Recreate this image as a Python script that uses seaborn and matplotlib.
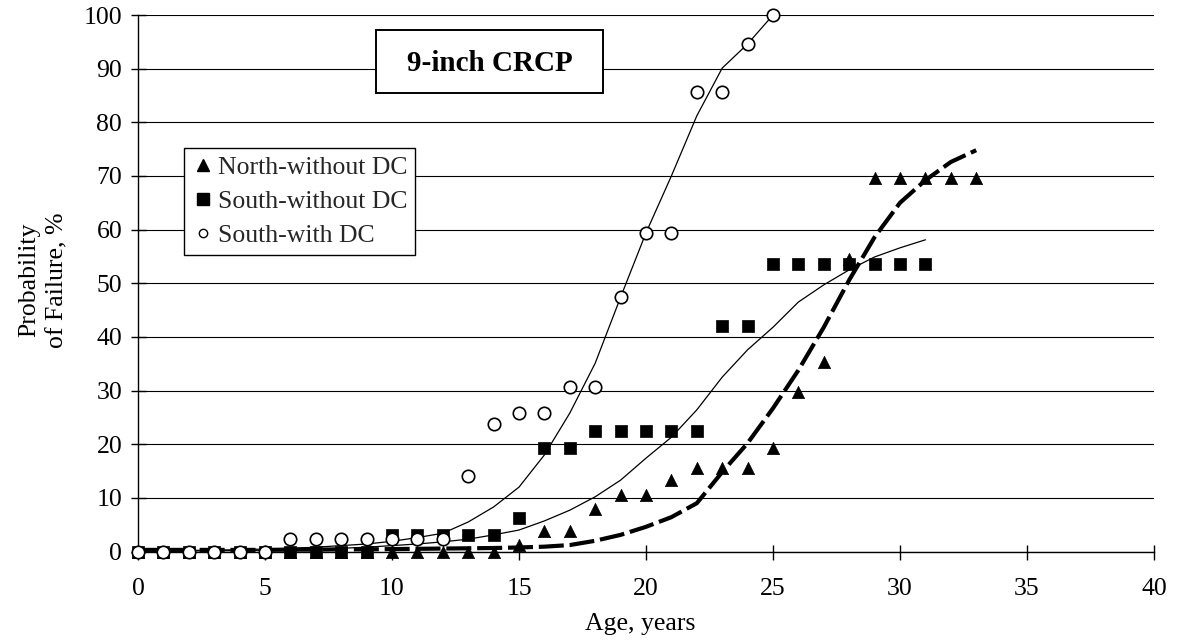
import matplotlib
matplotlib.use("Agg")
import matplotlib.pyplot as plt
import seaborn as sns
import pandas as pd
from matplotlib.lines import Line2D
from matplotlib.patches import Rectangle

# ---------------- data ----------------
ages_north = list(range(0, 34))
north_obs = [0] * 15 + [1.2, 3.8, 3.8, 8.0, 10.5, 10.5, 13.3, 15.5, 15.5, 15.5,
                        19.2, 29.8, 35.4, 54.5, 69.6, 69.6, 69.6, 69.6, 69.6]
ages_south = list(range(0, 32))
south_obs = [0] * 10 + [3.0] * 5 + [6.3, 19.2, 19.2, 22.5, 22.5, 22.5, 22.5, 22.5,
                                   42.1, 42.1] + [53.6] * 7
ages_dc = list(range(0, 26))
dc_obs = [0] * 6 + [2.3] * 7 + [14.0, 23.8, 25.8, 25.8, 30.7, 30.7, 47.5, 59.3, 59.3,
                               85.6, 85.6, 94.6, 100.0]

north_fit = [0.3, 0.3, 0.3, 0.3, 0.3, 0.3, 0.35, 0.35, 0.4, 0.4, 0.45, 0.5, 0.55, 0.6,
             0.65, 0.75, 0.9, 1.2, 2.0, 3.1, 4.6, 6.4, 9.0, 14.8, 20.2, 26.7, 33.8,
             41.8, 50.6, 58.6, 65.0, 69.2, 72.6, 74.8]
south_fit = [0.1, 0.1, 0.1, 0.15, 0.15, 0.2, 0.3, 0.45, 0.6, 0.8, 1.1, 1.4, 1.8, 2.3,
             3.1, 4.0, 5.7, 7.7, 10.2, 13.3, 17.4, 21.3, 26.4, 32.5, 37.6, 41.8, 46.5,
             49.7, 52.5, 54.9, 56.6, 58.1]
dc_fit = [0.1, 0.15, 0.2, 0.25, 0.35, 0.45, 0.6, 0.8, 1.1, 1.4, 1.9, 2.6, 3.4, 5.5,
          8.3, 12.0, 18.0, 25.8, 35.1, 47.4, 59.4, 70.0, 81.2, 90.1, 94.6, 100.0]

series_labels = ["North-without DC", "South-without DC", "South-with DC"]
x_ticks = list(range(0, 41, 5))
y_ticks = list(range(0, 101, 10))
title_text = "9-inch CRCP"
x_label = "Age, years"
y_label = "Probability\nof Failure, %"

# ---------------- style ----------------
sns.set_theme(style="white")
plt.rcParams["font.family"] = ["Liberation Serif", "DejaVu Serif"]
FS = 18.5

fig = plt.figure(figsize=(11.78, 6.44), dpi=100)
ax = fig.add_axes([138 / 1178, 1 - 551.5 / 644, 1016 / 1178, 536.5 / 644])

# fitted curves
sns.lineplot(data=pd.DataFrame({"age": ages_north, "p": north_fit}), x="age", y="p",
             ax=ax, color="black", lw=3.0, linestyle=(0, (6, 1.4)),
             errorbar=None, zorder=3, clip_on=False)
sns.lineplot(data=pd.DataFrame({"age": ages_south, "p": south_fit}), x="age", y="p",
             ax=ax, color="black", lw=0.9, errorbar=None, zorder=3, clip_on=False)
sns.lineplot(data=pd.DataFrame({"age": ages_dc, "p": dc_fit}), x="age", y="p",
             ax=ax, color="black", lw=0.9, errorbar=None, zorder=3, clip_on=False)

# observed points
sns.scatterplot(x=ages_north, y=north_obs, ax=ax, marker="^", s=78, color="black",
                edgecolor="black", linewidth=0.5, zorder=4, clip_on=False, legend=False)
sns.scatterplot(x=ages_south, y=south_obs, ax=ax, marker="s", s=72, color="black",
                edgecolor="black", linewidth=0.5, zorder=5, clip_on=False, legend=False)
sns.scatterplot(x=ages_dc, y=dc_obs, ax=ax, marker="o", s=80, color="white",
                edgecolor="black", linewidth=1.2, zorder=6, clip_on=False, legend=False)

# axes
ax.set_xlim(0, 40)
ax.set_ylim(0, 100)
ax.set_xticks(x_ticks)
ax.set_yticks(y_ticks)
ax.yaxis.grid(True, color="black", lw=0.8)
ax.xaxis.grid(False)
ax.set_axisbelow(True)
for s in ["top", "right"]:
    ax.spines[s].set_visible(False)
for s in ["left", "bottom"]:
    ax.spines[s].set_color("black")
    ax.spines[s].set_linewidth(1.0)
ax.tick_params(axis="both", which="major", direction="inout", length=10.8, width=1,
               color="black", labelsize=FS, labelcolor="black", bottom=True, left=True)
ax.tick_params(axis="x", pad=13.5)
ax.tick_params(axis="y", pad=6)

ax.set_xlabel(x_label, fontsize=FS, color="black")
ax.xaxis.set_label_coords(0.494, -0.114)
ax.set_ylabel(y_label, fontsize=FS, color="black", linespacing=1.37,
              ha="center", va="center")
ax.yaxis.set_label_coords(-0.0935, 0.506)

# title box
ax.add_patch(Rectangle((0.2343, 0.8546), 0.2234, 0.1174, transform=ax.transAxes,
                       facecolor="white", edgecolor="black", lw=1.4, zorder=7))
ax.text(0.3461, 0.8947, title_text, transform=ax.transAxes, ha="center",
        va="baseline", fontsize=21, fontweight="bold", color="black", zorder=8)

# legend
handles = [
    Line2D([], [], ls="none", marker="^", ms=8.5, mfc="black", mec="black"),
    Line2D([], [], ls="none", marker="s", ms=8.0, mfc="black", mec="black"),
    Line2D([], [], ls="none", marker="o", ms=6.0, mfc="white", mec="black", mew=1.0),
]
leg = ax.legend(handles, series_labels, loc="upper left", bbox_to_anchor=(0.0453, 0.752),
                borderaxespad=0, frameon=True, fancybox=False, framealpha=1,
                edgecolor="black", fontsize=FS, handlelength=0.88, handletextpad=0.15,
                labelspacing=0.44, borderpad=0.3)
leg.get_frame().set_linewidth(1.0)
leg.set_zorder(10)

fig.savefig("out.png", dpi=100, facecolor="white")
